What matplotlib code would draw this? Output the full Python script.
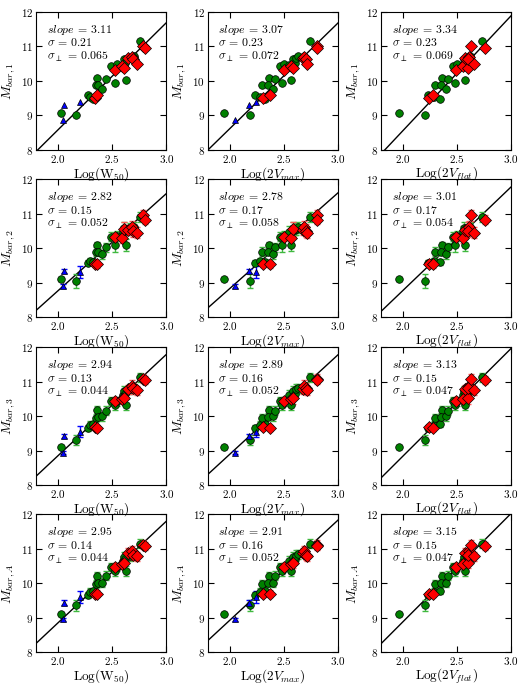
import numpy as np
import matplotlib
matplotlib.use("Agg")
import matplotlib.pyplot as plt

plt.rcParams['font.family'] = ['cmr10', 'DejaVu Serif']
plt.rcParams['mathtext.fontset'] = 'cm'
plt.rcParams['axes.formatter.use_mathtext'] = True

# green sample: x in the three velocity measures, y in the four mass estimates
w50_g   = [2.03, 2.17, 2.28, 2.30, 2.32, 2.36, 2.35, 2.37, 2.41, 2.44, 2.49, 2.53, 2.54, 2.60, 2.61, 2.62, 2.63, 2.66, 2.70, 2.76]
vmax_g  = [1.95, 2.19, 2.23, 2.28, 2.33, 2.36, 2.30, 2.35, 2.40, 2.42, 2.46, 2.48, 2.50, 2.55, 2.58, 2.60, 2.57, 2.61, 2.63, 2.74]
vflat_g = [1.96, 2.20, 2.23, 2.29, 2.34, 2.36, 2.30, 2.35, 2.40, 2.42, 2.46, 2.48, 2.50, 2.55, 2.56, 2.59, 2.57, 2.62, 2.62, 2.73]
m1_g = [9.08, 9.01, 9.58, 9.55, 9.47, 10.10, 9.88, 9.87, 9.76, 10.05, 10.42, 9.93, 10.48, 10.46, 10.63, 10.51, 10.03, 10.66, 10.72, 11.17]
m2_g = [9.10, 9.05, 9.58, 9.62, 9.60, 10.09, 9.89, 9.90, 9.82, 10.02, 10.33, 10.08, 10.35, 10.48, 10.57, 10.52, 10.10, 10.56, 10.60, 10.90]
m3_g = [9.11, 9.30, 9.66, 9.75, 9.76, 10.18, 9.95, 9.98, 9.99, 10.16, 10.44, 10.32, 10.43, 10.60, 10.72, 10.65, 10.33, 10.78, 10.80, 11.12]
mA_g = [9.12, 9.36, 9.66, 9.75, 9.78, 10.22, 9.97, 10.00, 10.02, 10.22, 10.48, 10.36, 10.47, 10.63, 10.76, 10.70, 10.35, 10.80, 10.84, 11.14]
e2_g = [0.06, 0.20, 0.08, 0.10, 0.09, 0.10, 0.13, 0.10, 0.13, 0.13, 0.13, 0.18, 0.15, 0.17, 0.18, 0.15, 0.17, 0.17, 0.15, 0.15]
e3_g = [0.06, 0.15, 0.08, 0.10, 0.09, 0.10, 0.12, 0.10, 0.12, 0.12, 0.12, 0.14, 0.13, 0.15, 0.15, 0.13, 0.15, 0.15, 0.13, 0.13]
eA_g = [0.06, 0.16, 0.08, 0.10, 0.09, 0.10, 0.12, 0.10, 0.12, 0.12, 0.12, 0.14, 0.13, 0.15, 0.15, 0.13, 0.15, 0.15, 0.13, 0.13]

# blue sample (no flat rotation velocity)
w50_b   = [2.05, 2.06, 2.20]
vmax_b  = [2.05, 2.18, 2.24]
vflat_b = [np.nan, np.nan, np.nan]
m1_b = [8.88, 9.30, 9.40]
m2_b = [8.90, 9.33, 9.31]
m3_b = [8.94, 9.42, 9.55]
mA_b = [8.95, 9.44, 9.60]
e2_b = [0.05, 0.06, 0.18]
e3_b = [0.05, 0.06, 0.15]
eA_b = [0.05, 0.06, 0.16]

# red sample
w50_r   = [2.34, 2.36, 2.53, 2.59, 2.61, 2.65, 2.68, 2.69, 2.73, 2.78, 2.80]
vmax_r  = [2.31, 2.37, 2.50, 2.57, 2.58, 2.68, 2.69, 2.70, 2.71, 2.81, 2.81]
vflat_r = [2.24, 2.28, 2.49, 2.55, 2.60, 2.57, 2.61, 2.60, 2.66, 2.63, 2.76]
m1_r = [9.51, 9.58, 10.32, 10.42, 10.38, 10.68, 10.69, 10.63, 10.49, 11.01, 10.95]
m2_r = [9.55, 9.53, 10.33, 10.29, 10.55, 10.52, 10.62, 10.50, 10.45, 10.95, 10.82]
m3_r = [9.68, 9.65, 10.45, 10.48, 10.52, 10.78, 10.88, 10.80, 10.75, 11.08, 11.05]
mA_r = [9.68, 9.70, 10.48, 10.55, 10.60, 10.88, 10.92, 10.82, 10.78, 11.12, 11.08]
e2_r = [0.10, 0.10, 0.12, 0.15, 0.20, 0.15, 0.17, 0.19, 0.15, 0.15, 0.13]
e3_r = [0.09, 0.09, 0.11, 0.13, 0.17, 0.13, 0.15, 0.16, 0.13, 0.13, 0.12]
eA_r = [0.09, 0.09, 0.11, 0.13, 0.17, 0.13, 0.15, 0.16, 0.13, 0.13, 0.12]

xlabels = ['Log(W$_{50}$)', 'Log(2$V_{max}$)', 'Log(2$V_{flat}$)']
ylabels = ['$M_{bar,1}$', '$M_{bar,2}$', '$M_{bar,3}$', '$M_{bar,A}$']

# fit results per panel [row][col]
slopes = [[3.11, 3.07, 3.34], [2.82, 2.78, 3.01], [2.94, 2.89, 3.13], [2.95, 2.91, 3.15]]
sigmas = [[0.21, 0.23, 0.23], [0.15, 0.17, 0.17], [0.13, 0.16, 0.15], [0.14, 0.16, 0.15]]
sperps = [['0.065', '0.072', '0.069'], ['0.052', '0.058', '0.054'],
          ['0.044', '0.052', '0.047'], ['0.044', '0.052', '0.047']]
y_at_18 = [[7.96, 8.00, 7.89], [8.20, 8.27, 8.17], [8.26, 8.31, 8.21], [8.26, 8.34, 8.25]]

xg = [w50_g, vmax_g, vflat_g]
xb = [w50_b, vmax_b, vflat_b]
xr = [w50_r, vmax_r, vflat_r]
yg = [m1_g, m2_g, m3_g, mA_g]
yb = [m1_b, m2_b, m3_b, mA_b]
yr = [m1_r, m2_r, m3_r, mA_r]
eg = [None, e2_g, e3_g, eA_g]
eb = [None, e2_b, e3_b, eA_b]
er = [None, e2_r, e3_r, eA_r]

fig = plt.figure(figsize=(5.25, 6.88), dpi=100)
lefts = [0.069, 0.396, 0.726]
bottoms = [0.782, 0.539, 0.295, 0.052]

for i in range(4):
    for j in range(3):
        ax = fig.add_axes([lefts[j], bottoms[i], 0.248, 0.2006])
        ax.set_facecolor('none')
        xx = np.array([1.8, 3.0])
        ax.plot(xx, y_at_18[i][j] + slopes[i][j] * (xx - 1.8), 'k-', lw=1, zorder=1)
        if eg[i] is not None:
            ax.errorbar(xg[j], yg[i], yerr=eg[i], fmt='none', ecolor='#40b840', elinewidth=1, capsize=2.5, capthick=1, zorder=2)
            ax.errorbar(xb[j], yb[i], yerr=eb[i], fmt='none', ecolor='blue', elinewidth=1, capsize=2.5, capthick=1, zorder=2)
            ax.errorbar(xr[j], yr[i], yerr=er[i], fmt='none', ecolor='#ff5a5a', elinewidth=1, capsize=2.5, capthick=1, zorder=2)
        ax.plot(xg[j], yg[i], 'o', color='green', mec='k', mew=0.5, ms=5.5, zorder=3)
        ax.plot(xb[j], yb[i], '^', color='blue', mec='k', mew=0.5, ms=5, zorder=3)
        ax.plot(xr[j], yr[i], 'D', color='red', mec='k', mew=0.5, ms=6, zorder=3)

        ax.text(0.08, 0.85, '$slope$ = %.2f' % slopes[i][j], transform=ax.transAxes, fontsize=8.5)
        ax.text(0.08, 0.75, r'$\sigma$ = %.2f' % sigmas[i][j], transform=ax.transAxes, fontsize=8.5)
        ax.text(0.08, 0.655, r'$\sigma_{\perp}$ = ' + sperps[i][j], transform=ax.transAxes, fontsize=8.5)

        ax.set_xlim(1.8, 3.0)
        ax.set_ylim(8, 12)
        ax.set_xticks([2.0, 2.5, 3.0])
        ax.set_yticks([8, 9, 10, 11, 12])
        ax.tick_params(direction='in', top=True, right=True, labelsize=8, length=4, pad=2)
        ax.set_xlabel(xlabels[j], fontsize=9.5, labelpad=0)
        ax.set_ylabel(ylabels[i], fontsize=10, labelpad=3)

fig.savefig('out.png', dpi=100)
